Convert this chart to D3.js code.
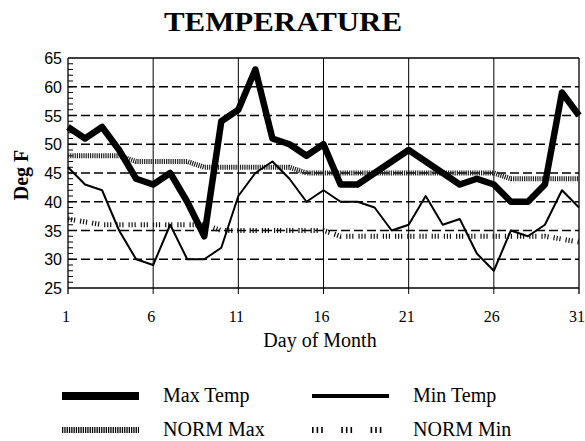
<!DOCTYPE html>
<html><head><meta charset="utf-8">
<script src="https://cdn.jsdelivr.net/npm/d3@7"></script>
<style>body{margin:0;background:#fff}svg{display:block}</style>
</head><body>
<script>
const days = d3.range(1, 32);
const maxTemp = [53,51,53,49,44,43,45,40,34,54,56,63,51,50,48,50,43,43,45,47,49,47,45,43,44,43,40,40,43,59,55];
const minTemp = [46,43,42,35,30,29,36,30,30,32,41,45,47,44,40,42,40,40,39,35,36,41,36,37,31,28,35,34,36,42,39];
const normMax = [48,48,48,48,47,47,47,47,46,46,46,46,46,46,45,45,45,45,45,45,45,45,45,45,45,45,44,44,44,44,44];
const normMin = [37,36.5,36,36,36,36,36,36,36,35,35,35,35,35,35,35,34,34,34,34,34,34,34,34,34,34,34,34,34,33.5,33];
const xTicks = [1,6,11,16,21,26,31];
const yTicks = [25,30,35,40,45,50,55,60,65];
const legendItems = ["Max Temp","Min Temp","NORM Max","NORM Min"];

const W = 585, H = 441;
const svg = d3.select("body").append("svg").attr("width", W).attr("height", H);
const x = d3.scaleLinear().domain([1,31]).range([68,579]);
const y = d3.scaleLinear().domain([25,65]).range([288,58]);
const serif = "'Liberation Serif','Times New Roman',serif";
const sans = "'Liberation Sans',Arial,sans-serif";

// title
svg.append("text").attr("x", 283).attr("y", 31).attr("text-anchor","middle")
  .attr("font-family", serif).attr("font-weight","bold").attr("font-size", 28)
  .attr("textLength", 238).attr("lengthAdjust","spacingAndGlyphs").text("TEMPERATURE");

// horizontal dashed grid
svg.append("g").selectAll("line").data(yTicks.filter(v => v > 25 && v < 65)).join("line")
  .attr("x1", x(1)).attr("x2", x(31)).attr("y1", d => y(d)).attr("y2", d => y(d))
  .attr("stroke","#000").attr("stroke-width",1.5).attr("stroke-dasharray","9,4");
// top / bottom border
svg.append("g").selectAll("line").data([25,65]).join("line")
  .attr("x1", x(1)).attr("x2", x(31)).attr("y1", d => y(d)).attr("y2", d => y(d))
  .attr("stroke","#000").attr("stroke-width",1.5);
// vertical grid lines
svg.append("g").selectAll("line").data(xTicks).join("line")
  .attr("x1", d => x(d)).attr("x2", d => x(d)).attr("y1", y(65)).attr("y2", y(25) + 6)
  .attr("stroke","#000").attr("stroke-width", d => (d === 1 || d === 31) ? 1.3 : 1);
// minor ticks on left axis
svg.append("g").selectAll("line").data(d3.range(26,65)).join("line")
  .attr("x1", x(1)).attr("x2", x(1) + 5).attr("y1", d => y(d)).attr("y2", d => y(d))
  .attr("stroke","#000").attr("stroke-width",1);

// y tick labels
svg.append("g").selectAll("text").data(yTicks).join("text")
  .attr("x", 62).attr("y", d => y(d) + 6).attr("text-anchor","end")
  .attr("font-family", sans).attr("font-size", 16).text(d => d);
// x tick labels
svg.append("g").selectAll("text").data(xTicks).join("text")
  .attr("x", d => x(d) - 2).attr("y", 322).attr("text-anchor","middle")
  .attr("font-family", serif).attr("font-size", 16).text(d => d);
// axis titles
svg.append("text").attr("x", 320).attr("y", 347).attr("text-anchor","middle")
  .attr("font-family", serif).attr("font-size", 20).text("Day of Month");
svg.append("text").attr("transform","translate(28,175) rotate(-90)").attr("text-anchor","middle")
  .attr("font-family", serif).attr("font-weight","bold").attr("font-size", 20).text("Deg F");

const line = d3.line().x((d,i) => x(days[i])).y(d => y(d));
// series
svg.append("path").datum(normMax).attr("d", line).attr("fill","none")
  .attr("stroke","#222").attr("stroke-width",5).attr("stroke-dasharray","1.2,1");
svg.append("path").datum(normMin).attr("d", line).attr("fill","none")
  .attr("stroke","#111").attr("stroke-width",5).attr("stroke-dasharray","1.2,1.8,1.2,1.8,1.2,5");
svg.append("path").datum(minTemp).attr("d", line).attr("fill","none")
  .attr("stroke","#000").attr("stroke-width",2).attr("stroke-linejoin","round");
svg.append("path").datum(maxTemp).attr("d", line).attr("fill","none")
  .attr("stroke","#000").attr("stroke-width",6.5).attr("stroke-linejoin","round");

// legend
const lg = svg.append("g");
const lx = [62, 312], ly = [396, 430], tx = [163, 413];
legendItems.forEach((name, i) => {
  const col = i % 2, row = Math.floor(i / 2);
  const g = lg.append("g");
  const l = g.append("line").attr("x1", lx[col]).attr("x2", lx[col] + 77)
    .attr("y1", ly[row]).attr("y2", ly[row]).attr("stroke","#000");
  if (i === 0) l.attr("stroke-width", 8);
  if (i === 1) l.attr("stroke-width", 4);
  if (i === 2) l.attr("stroke-width", 6).attr("stroke-dasharray","1.3,1");
  if (i === 3) l.attr("stroke-width", 6).attr("stroke-dasharray","1.6,3,1.6,3,1.6,18.5");
  g.append("text").attr("x", tx[col]).attr("y", ly[row] + 6)
    .attr("font-family", serif).attr("font-size", 20).text(name);
});
</script>
</body></html>
